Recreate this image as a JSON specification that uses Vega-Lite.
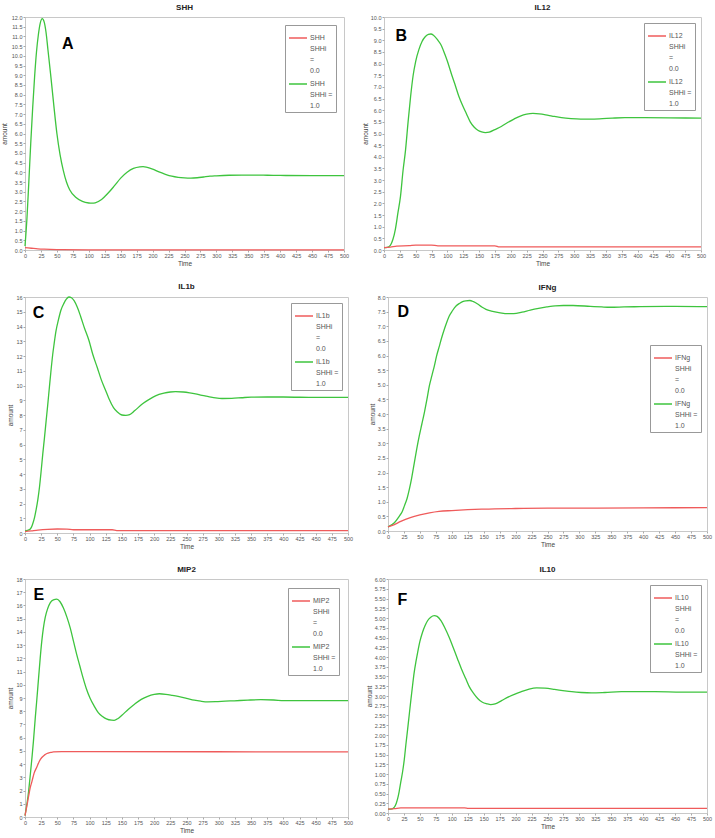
{
  "$schema": "https://vega.github.io/schema/vega-lite/v6.json",
  "background": "white",
  "padding": {"left": 0, "top": 3, "right": 3, "bottom": 2},
  "config": {
    "view": {"stroke": "#c8c8c8", "strokeWidth": 1},
    "axis": {"labelFontSize": 5.5, "labelColor": "#555", "labelFont": "Liberation Sans", "titleFont": "Liberation Sans", "titleFontSize": 6.5, "titleFontWeight": "normal", "titleColor": "#444", "tickSize": 2, "tickColor": "#aaa", "domain": false, "grid": false, "labelPadding": 1, "titlePadding": 2, "labelOverlap": false, "labelFlush": false},
    "title": {"fontSize": 8, "fontWeight": "bold", "font": "Liberation Sans", "offset": 3, "color": "#222"},
    "legend": {"strokeColor": "#999", "fillColor": "white", "padding": 3, "labelFontSize": 7, "labelFont": "Liberation Sans", "labelColor": "#555", "symbolType": "stroke", "symbolStrokeWidth": 1.5, "symbolSize": 324, "labelOffset": 2, "rowPadding": 0, "labelLimit": 200}
  },
  "datasets": {
    "A": [
      {"SHHi":"1.0","time":0,"amount":0.2},{"SHHi":"1.0","time":3,"amount":1.6},{"SHHi":"1.0","time":6,"amount":3.5},{"SHHi":"1.0","time":9,"amount":5.5},{"SHHi":"1.0","time":12,"amount":7.3},{"SHHi":"1.0","time":15,"amount":8.9},{"SHHi":"1.0","time":18,"amount":10.2},{"SHHi":"1.0","time":21,"amount":11.1},{"SHHi":"1.0","time":24,"amount":11.7},{"SHHi":"1.0","time":27,"amount":11.92},{"SHHi":"1.0","time":30,"amount":11.75},{"SHHi":"1.0","time":33,"amount":11.2},{"SHHi":"1.0","time":36,"amount":10.3},{"SHHi":"1.0","time":40,"amount":9.1},{"SHHi":"1.0","time":45,"amount":7.5},{"SHHi":"1.0","time":50,"amount":6.0},{"SHHi":"1.0","time":55,"amount":4.9},{"SHHi":"1.0","time":60,"amount":4.1},{"SHHi":"1.0","time":65,"amount":3.5},{"SHHi":"1.0","time":70,"amount":3.1},{"SHHi":"1.0","time":80,"amount":2.7},{"SHHi":"1.0","time":90,"amount":2.5},{"SHHi":"1.0","time":100,"amount":2.42},{"SHHi":"1.0","time":105,"amount":2.41},{"SHHi":"1.0","time":110,"amount":2.43},{"SHHi":"1.0","time":120,"amount":2.6},{"SHHi":"1.0","time":130,"amount":2.92},{"SHHi":"1.0","time":140,"amount":3.3},{"SHHi":"1.0","time":150,"amount":3.7},{"SHHi":"1.0","time":160,"amount":4.0},{"SHHi":"1.0","time":170,"amount":4.2},{"SHHi":"1.0","time":180,"amount":4.28},{"SHHi":"1.0","time":185,"amount":4.29},{"SHHi":"1.0","time":190,"amount":4.27},{"SHHi":"1.0","time":200,"amount":4.17},{"SHHi":"1.0","time":210,"amount":4.02},{"SHHi":"1.0","time":220,"amount":3.9},{"SHHi":"1.0","time":230,"amount":3.8},{"SHHi":"1.0","time":240,"amount":3.74},{"SHHi":"1.0","time":250,"amount":3.71},{"SHHi":"1.0","time":260,"amount":3.7},{"SHHi":"1.0","time":270,"amount":3.72},{"SHHi":"1.0","time":280,"amount":3.76},{"SHHi":"1.0","time":290,"amount":3.8},{"SHHi":"1.0","time":300,"amount":3.82},{"SHHi":"1.0","time":320,"amount":3.85},{"SHHi":"1.0","time":340,"amount":3.86},{"SHHi":"1.0","time":360,"amount":3.86},{"SHHi":"1.0","time":380,"amount":3.85},{"SHHi":"1.0","time":400,"amount":3.84},{"SHHi":"1.0","time":450,"amount":3.83},{"SHHi":"1.0","time":500,"amount":3.83},
      {"SHHi":"0.0","time":0,"amount":0.12},{"SHHi":"0.0","time":10,"amount":0.09},{"SHHi":"0.0","time":20,"amount":0.06},{"SHHi":"0.0","time":30,"amount":0.04},{"SHHi":"0.0","time":50,"amount":0.02},{"SHHi":"0.0","time":100,"amount":0.01},{"SHHi":"0.0","time":200,"amount":0.01},{"SHHi":"0.0","time":500,"amount":0.01}
    ],
    "B": [
      {"SHHi":"1.0","time":0,"amount":0.1},{"SHHi":"1.0","time":5,"amount":0.11},{"SHHi":"1.0","time":10,"amount":0.2},{"SHHi":"1.0","time":14,"amount":0.45},{"SHHi":"1.0","time":18,"amount":0.9},{"SHHi":"1.0","time":22,"amount":1.6},{"SHHi":"1.0","time":26,"amount":2.3},{"SHHi":"1.0","time":30,"amount":3.4},{"SHHi":"1.0","time":34,"amount":4.3},{"SHHi":"1.0","time":38,"amount":5.5},{"SHHi":"1.0","time":42,"amount":6.6},{"SHHi":"1.0","time":46,"amount":7.5},{"SHHi":"1.0","time":50,"amount":8.1},{"SHHi":"1.0","time":55,"amount":8.6},{"SHHi":"1.0","time":60,"amount":8.95},{"SHHi":"1.0","time":65,"amount":9.15},{"SHHi":"1.0","time":70,"amount":9.25},{"SHHi":"1.0","time":74,"amount":9.27},{"SHHi":"1.0","time":78,"amount":9.22},{"SHHi":"1.0","time":85,"amount":9.0},{"SHHi":"1.0","time":90,"amount":8.8},{"SHHi":"1.0","time":96,"amount":8.4},{"SHHi":"1.0","time":100,"amount":8.1},{"SHHi":"1.0","time":107,"amount":7.5},{"SHHi":"1.0","time":112,"amount":7.1},{"SHHi":"1.0","time":118,"amount":6.6},{"SHHi":"1.0","time":124,"amount":6.2},{"SHHi":"1.0","time":130,"amount":5.85},{"SHHi":"1.0","time":136,"amount":5.5},{"SHHi":"1.0","time":142,"amount":5.28},{"SHHi":"1.0","time":148,"amount":5.14},{"SHHi":"1.0","time":154,"amount":5.07},{"SHHi":"1.0","time":160,"amount":5.04},{"SHHi":"1.0","time":166,"amount":5.06},{"SHHi":"1.0","time":175,"amount":5.17},{"SHHi":"1.0","time":185,"amount":5.3},{"SHHi":"1.0","time":195,"amount":5.47},{"SHHi":"1.0","time":205,"amount":5.62},{"SHHi":"1.0","time":215,"amount":5.75},{"SHHi":"1.0","time":225,"amount":5.83},{"SHHi":"1.0","time":235,"amount":5.86},{"SHHi":"1.0","time":245,"amount":5.84},{"SHHi":"1.0","time":255,"amount":5.8},{"SHHi":"1.0","time":265,"amount":5.75},{"SHHi":"1.0","time":280,"amount":5.68},{"SHHi":"1.0","time":295,"amount":5.64},{"SHHi":"1.0","time":310,"amount":5.62},{"SHHi":"1.0","time":325,"amount":5.62},{"SHHi":"1.0","time":340,"amount":5.63},{"SHHi":"1.0","time":360,"amount":5.66},{"SHHi":"1.0","time":380,"amount":5.68},{"SHHi":"1.0","time":400,"amount":5.68},{"SHHi":"1.0","time":450,"amount":5.67},{"SHHi":"1.0","time":500,"amount":5.66},
      {"SHHi":"0.0","time":0,"amount":0.1},{"SHHi":"0.0","time":10,"amount":0.12},{"SHHi":"0.0","time":20,"amount":0.17},{"SHHi":"0.0","time":40,"amount":0.19},{"SHHi":"0.0","time":50,"amount":0.21},{"SHHi":"0.0","time":75,"amount":0.21},{"SHHi":"0.0","time":85,"amount":0.18},{"SHHi":"0.0","time":175,"amount":0.18},{"SHHi":"0.0","time":182,"amount":0.13},{"SHHi":"0.0","time":500,"amount":0.13}
    ],
    "C": [
      {"SHHi":"1.0","time":0,"amount":0.14},{"SHHi":"1.0","time":7,"amount":0.23},{"SHHi":"1.0","time":10,"amount":0.4},{"SHHi":"1.0","time":12,"amount":0.63},{"SHHi":"1.0","time":15,"amount":1.1},{"SHHi":"1.0","time":17,"amount":1.53},{"SHHi":"1.0","time":20,"amount":2.3},{"SHHi":"1.0","time":22.4,"amount":3.1},{"SHHi":"1.0","time":25,"amount":4.2},{"SHHi":"1.0","time":27.6,"amount":5.4},{"SHHi":"1.0","time":30,"amount":6.4},{"SHHi":"1.0","time":32.7,"amount":7.6},{"SHHi":"1.0","time":35,"amount":8.6},{"SHHi":"1.0","time":37.8,"amount":9.9},{"SHHi":"1.0","time":40,"amount":10.9},{"SHHi":"1.0","time":42.9,"amount":12.1},{"SHHi":"1.0","time":45,"amount":12.8},{"SHHi":"1.0","time":48,"amount":13.7},{"SHHi":"1.0","time":52,"amount":14.5},{"SHHi":"1.0","time":55.6,"amount":15.1},{"SHHi":"1.0","time":60,"amount":15.55},{"SHHi":"1.0","time":64,"amount":15.85},{"SHHi":"1.0","time":68,"amount":16.0},{"SHHi":"1.0","time":72,"amount":15.95},{"SHHi":"1.0","time":76,"amount":15.75},{"SHHi":"1.0","time":81,"amount":15.3},{"SHHi":"1.0","time":86,"amount":14.7},{"SHHi":"1.0","time":92,"amount":13.9},{"SHHi":"1.0","time":99,"amount":13.05},{"SHHi":"1.0","time":105,"amount":12.1},{"SHHi":"1.0","time":112,"amount":11.2},{"SHHi":"1.0","time":118,"amount":10.4},{"SHHi":"1.0","time":124.5,"amount":9.7},{"SHHi":"1.0","time":130,"amount":9.1},{"SHHi":"1.0","time":137,"amount":8.5},{"SHHi":"1.0","time":143,"amount":8.2},{"SHHi":"1.0","time":150,"amount":8.0},{"SHHi":"1.0","time":156,"amount":7.97},{"SHHi":"1.0","time":162,"amount":8.02},{"SHHi":"1.0","time":170,"amount":8.3},{"SHHi":"1.0","time":182,"amount":8.76},{"SHHi":"1.0","time":192,"amount":9.05},{"SHHi":"1.0","time":202,"amount":9.3},{"SHHi":"1.0","time":215,"amount":9.48},{"SHHi":"1.0","time":225,"amount":9.56},{"SHHi":"1.0","time":233,"amount":9.59},{"SHHi":"1.0","time":245,"amount":9.56},{"SHHi":"1.0","time":255,"amount":9.5},{"SHHi":"1.0","time":264,"amount":9.43},{"SHHi":"1.0","time":274,"amount":9.33},{"SHHi":"1.0","time":284,"amount":9.25},{"SHHi":"1.0","time":295,"amount":9.16},{"SHHi":"1.0","time":305,"amount":9.12},{"SHHi":"1.0","time":320,"amount":9.13},{"SHHi":"1.0","time":335,"amount":9.17},{"SHHi":"1.0","time":350,"amount":9.21},{"SHHi":"1.0","time":375,"amount":9.22},{"SHHi":"1.0","time":400,"amount":9.22},{"SHHi":"1.0","time":450,"amount":9.19},{"SHHi":"1.0","time":500,"amount":9.19},
      {"SHHi":"0.0","time":0,"amount":0.1},{"SHHi":"0.0","time":10,"amount":0.15},{"SHHi":"0.0","time":20,"amount":0.2},{"SHHi":"0.0","time":35,"amount":0.25},{"SHHi":"0.0","time":50,"amount":0.27},{"SHHi":"0.0","time":65,"amount":0.26},{"SHHi":"0.0","time":75,"amount":0.22},{"SHHi":"0.0","time":135,"amount":0.22},{"SHHi":"0.0","time":142,"amount":0.16},{"SHHi":"0.0","time":500,"amount":0.16}
    ],
    "D": [
      {"SHHi":"1.0","time":0,"amount":0.14},{"SHHi":"1.0","time":10,"amount":0.28},{"SHHi":"1.0","time":17.8,"amount":0.51},{"SHHi":"1.0","time":22,"amount":0.65},{"SHHi":"1.0","time":25.6,"amount":0.85},{"SHHi":"1.0","time":30,"amount":1.12},{"SHHi":"1.0","time":33.4,"amount":1.42},{"SHHi":"1.0","time":37,"amount":1.8},{"SHHi":"1.0","time":41.3,"amount":2.34},{"SHHi":"1.0","time":45,"amount":2.8},{"SHHi":"1.0","time":49,"amount":3.25},{"SHHi":"1.0","time":53,"amount":3.65},{"SHHi":"1.0","time":57,"amount":4.05},{"SHHi":"1.0","time":61,"amount":4.5},{"SHHi":"1.0","time":64.8,"amount":4.96},{"SHHi":"1.0","time":69,"amount":5.33},{"SHHi":"1.0","time":72.6,"amount":5.64},{"SHHi":"1.0","time":76,"amount":5.97},{"SHHi":"1.0","time":80.5,"amount":6.32},{"SHHi":"1.0","time":84,"amount":6.6},{"SHHi":"1.0","time":88.3,"amount":6.9},{"SHHi":"1.0","time":92,"amount":7.13},{"SHHi":"1.0","time":96,"amount":7.35},{"SHHi":"1.0","time":101,"amount":7.53},{"SHHi":"1.0","time":106.6,"amount":7.69},{"SHHi":"1.0","time":112,"amount":7.78},{"SHHi":"1.0","time":117,"amount":7.84},{"SHHi":"1.0","time":122,"amount":7.87},{"SHHi":"1.0","time":128,"amount":7.88},{"SHHi":"1.0","time":134,"amount":7.84},{"SHHi":"1.0","time":140.5,"amount":7.76},{"SHHi":"1.0","time":147,"amount":7.66},{"SHHi":"1.0","time":153.6,"amount":7.58},{"SHHi":"1.0","time":162,"amount":7.52},{"SHHi":"1.0","time":176,"amount":7.46},{"SHHi":"1.0","time":187,"amount":7.43},{"SHHi":"1.0","time":197,"amount":7.43},{"SHHi":"1.0","time":210,"amount":7.48},{"SHHi":"1.0","time":223,"amount":7.55},{"SHHi":"1.0","time":236,"amount":7.61},{"SHHi":"1.0","time":249,"amount":7.66},{"SHHi":"1.0","time":262,"amount":7.7},{"SHHi":"1.0","time":275,"amount":7.71},{"SHHi":"1.0","time":290,"amount":7.71},{"SHHi":"1.0","time":317,"amount":7.68},{"SHHi":"1.0","time":335,"amount":7.66},{"SHHi":"1.0","time":348,"amount":7.65},{"SHHi":"1.0","time":370,"amount":7.66},{"SHHi":"1.0","time":395,"amount":7.67},{"SHHi":"1.0","time":450,"amount":7.68},{"SHHi":"1.0","time":500,"amount":7.67},
      {"SHHi":"0.0","time":0,"amount":0.14},{"SHHi":"0.0","time":10,"amount":0.22},{"SHHi":"0.0","time":20,"amount":0.33},{"SHHi":"0.0","time":35,"amount":0.46},{"SHHi":"0.0","time":50,"amount":0.55},{"SHHi":"0.0","time":65,"amount":0.62},{"SHHi":"0.0","time":80,"amount":0.67},{"SHHi":"0.0","time":100,"amount":0.7},{"SHHi":"0.0","time":125,"amount":0.73},{"SHHi":"0.0","time":150,"amount":0.75},{"SHHi":"0.0","time":200,"amount":0.77},{"SHHi":"0.0","time":250,"amount":0.78},{"SHHi":"0.0","time":300,"amount":0.78},{"SHHi":"0.0","time":400,"amount":0.79},{"SHHi":"0.0","time":500,"amount":0.8}
    ],
    "E": [
      {"SHHi":"1.0","time":0,"amount":0.1},{"SHHi":"1.0","time":3,"amount":1.0},{"SHHi":"1.0","time":5.6,"amount":1.95},{"SHHi":"1.0","time":8,"amount":3.1},{"SHHi":"1.0","time":10.8,"amount":4.5},{"SHHi":"1.0","time":13,"amount":5.7},{"SHHi":"1.0","time":15.9,"amount":7.5},{"SHHi":"1.0","time":18,"amount":8.7},{"SHHi":"1.0","time":21,"amount":10.5},{"SHHi":"1.0","time":23.5,"amount":12.0},{"SHHi":"1.0","time":26,"amount":13.3},{"SHHi":"1.0","time":28.5,"amount":14.3},{"SHHi":"1.0","time":31.3,"amount":15.1},{"SHHi":"1.0","time":35,"amount":15.75},{"SHHi":"1.0","time":39,"amount":16.2},{"SHHi":"1.0","time":44,"amount":16.42},{"SHHi":"1.0","time":49.3,"amount":16.48},{"SHHi":"1.0","time":54,"amount":16.3},{"SHHi":"1.0","time":59.5,"amount":15.8},{"SHHi":"1.0","time":65,"amount":15.1},{"SHHi":"1.0","time":70,"amount":14.3},{"SHHi":"1.0","time":75,"amount":13.3},{"SHHi":"1.0","time":80,"amount":12.3},{"SHHi":"1.0","time":85,"amount":11.4},{"SHHi":"1.0","time":90,"amount":10.5},{"SHHi":"1.0","time":95,"amount":9.7},{"SHHi":"1.0","time":100.6,"amount":9.0},{"SHHi":"1.0","time":107,"amount":8.4},{"SHHi":"1.0","time":113.4,"amount":7.9},{"SHHi":"1.0","time":120,"amount":7.6},{"SHHi":"1.0","time":126,"amount":7.42},{"SHHi":"1.0","time":134,"amount":7.32},{"SHHi":"1.0","time":138,"amount":7.31},{"SHHi":"1.0","time":144,"amount":7.45},{"SHHi":"1.0","time":150,"amount":7.7},{"SHHi":"1.0","time":159.7,"amount":8.13},{"SHHi":"1.0","time":170,"amount":8.55},{"SHHi":"1.0","time":180,"amount":8.9},{"SHHi":"1.0","time":190,"amount":9.13},{"SHHi":"1.0","time":200,"amount":9.27},{"SHHi":"1.0","time":208,"amount":9.32},{"SHHi":"1.0","time":218,"amount":9.28},{"SHHi":"1.0","time":228,"amount":9.2},{"SHHi":"1.0","time":237,"amount":9.12},{"SHHi":"1.0","time":250,"amount":8.98},{"SHHi":"1.0","time":262,"amount":8.84},{"SHHi":"1.0","time":272,"amount":8.76},{"SHHi":"1.0","time":283,"amount":8.71},{"SHHi":"1.0","time":295,"amount":8.72},{"SHHi":"1.0","time":310,"amount":8.76},{"SHHi":"1.0","time":324,"amount":8.79},{"SHHi":"1.0","time":345,"amount":8.84},{"SHHi":"1.0","time":365,"amount":8.87},{"SHHi":"1.0","time":385,"amount":8.85},{"SHHi":"1.0","time":401,"amount":8.8},{"SHHi":"1.0","time":450,"amount":8.8},{"SHHi":"1.0","time":500,"amount":8.8},
      {"SHHi":"0.0","time":0,"amount":0.1},{"SHHi":"0.0","time":2,"amount":0.6},{"SHHi":"0.0","time":5.6,"amount":1.57},{"SHHi":"0.0","time":8,"amount":2.2},{"SHHi":"0.0","time":10.8,"amount":2.7},{"SHHi":"0.0","time":14,"amount":3.3},{"SHHi":"0.0","time":18.5,"amount":3.8},{"SHHi":"0.0","time":22,"amount":4.2},{"SHHi":"0.0","time":26,"amount":4.5},{"SHHi":"0.0","time":30,"amount":4.68},{"SHHi":"0.0","time":33.9,"amount":4.8},{"SHHi":"0.0","time":40,"amount":4.88},{"SHHi":"0.0","time":44,"amount":4.92},{"SHHi":"0.0","time":57,"amount":4.95},{"SHHi":"0.0","time":100,"amount":4.94},{"SHHi":"0.0","time":500,"amount":4.93}
    ],
    "F": [
      {"SHHi":"1.0","time":0,"amount":0.1},{"SHHi":"1.0","time":5,"amount":0.1},{"SHHi":"1.0","time":10,"amount":0.15},{"SHHi":"1.0","time":13,"amount":0.25},{"SHHi":"1.0","time":15,"amount":0.36},{"SHHi":"1.0","time":17.5,"amount":0.55},{"SHHi":"1.0","time":20,"amount":0.79},{"SHHi":"1.0","time":23,"amount":1.07},{"SHHi":"1.0","time":25.6,"amount":1.38},{"SHHi":"1.0","time":28,"amount":1.75},{"SHHi":"1.0","time":30.8,"amount":2.15},{"SHHi":"1.0","time":33.5,"amount":2.55},{"SHHi":"1.0","time":36,"amount":2.92},{"SHHi":"1.0","time":38.5,"amount":3.27},{"SHHi":"1.0","time":41,"amount":3.6},{"SHHi":"1.0","time":44,"amount":3.9},{"SHHi":"1.0","time":46.5,"amount":4.12},{"SHHi":"1.0","time":50,"amount":4.4},{"SHHi":"1.0","time":54,"amount":4.63},{"SHHi":"1.0","time":58,"amount":4.8},{"SHHi":"1.0","time":62,"amount":4.93},{"SHHi":"1.0","time":67,"amount":5.02},{"SHHi":"1.0","time":72.5,"amount":5.06},{"SHHi":"1.0","time":77,"amount":5.04},{"SHHi":"1.0","time":83,"amount":4.93},{"SHHi":"1.0","time":89,"amount":4.75},{"SHHi":"1.0","time":96,"amount":4.5},{"SHHi":"1.0","time":102,"amount":4.25},{"SHHi":"1.0","time":109,"amount":3.95},{"SHHi":"1.0","time":115,"amount":3.7},{"SHHi":"1.0","time":122,"amount":3.44},{"SHHi":"1.0","time":128,"amount":3.22},{"SHHi":"1.0","time":135,"amount":3.05},{"SHHi":"1.0","time":141,"amount":2.93},{"SHHi":"1.0","time":148,"amount":2.84},{"SHHi":"1.0","time":155,"amount":2.8},{"SHHi":"1.0","time":161,"amount":2.78},{"SHHi":"1.0","time":168,"amount":2.8},{"SHHi":"1.0","time":178,"amount":2.88},{"SHHi":"1.0","time":188,"amount":2.97},{"SHHi":"1.0","time":199,"amount":3.05},{"SHHi":"1.0","time":209,"amount":3.11},{"SHHi":"1.0","time":220,"amount":3.17},{"SHHi":"1.0","time":233,"amount":3.21},{"SHHi":"1.0","time":246,"amount":3.2},{"SHHi":"1.0","time":261,"amount":3.17},{"SHHi":"1.0","time":274,"amount":3.14},{"SHHi":"1.0","time":288,"amount":3.11},{"SHHi":"1.0","time":303,"amount":3.09},{"SHHi":"1.0","time":319,"amount":3.08},{"SHHi":"1.0","time":340,"amount":3.09},{"SHHi":"1.0","time":366,"amount":3.11},{"SHHi":"1.0","time":390,"amount":3.11},{"SHHi":"1.0","time":418,"amount":3.11},{"SHHi":"1.0","time":460,"amount":3.1},{"SHHi":"1.0","time":500,"amount":3.1},
      {"SHHi":"0.0","time":0,"amount":0.1},{"SHHi":"0.0","time":10,"amount":0.11},{"SHHi":"0.0","time":20,"amount":0.13},{"SHHi":"0.0","time":120,"amount":0.13},{"SHHi":"0.0","time":126,"amount":0.12},{"SHHi":"0.0","time":500,"amount":0.12}
    ]
  },
  "resolve": {"scale": {"color": "independent", "x": "independent", "y": "independent"}, "legend": {"color": "independent"}},
  "spacing": 14,
  "vconcat": [
    {
      "hconcat": [
        {
          "width": 319, "height": 233, "title": "SHH",
          "layer": [
            {"data": {"name": "A"}, "mark": {"type": "line", "interpolate": "monotone", "strokeWidth": 1.3},
             "encoding": {
               "x": {"field": "time", "type": "quantitative", "scale": {"domain": [0, 500], "nice": false}, "axis": {"title": "Time", "values": [0,25,50,75,100,125,150,175,200,225,250,275,300,325,350,375,400,425,450,475,500]}},
               "y": {"field": "amount", "type": "quantitative", "scale": {"domain": [0, 12], "nice": false}, "axis": {"title": "amount", "titlePadding": 4, "format": ".1f", "values": [0,0.5,1,1.5,2,2.5,3,3.5,4,4.5,5,5.5,6,6.5,7,7.5,8,8.5,9,9.5,10,10.5,11,11.5,12]}},
               "color": {"field": "SHHi", "type": "nominal", "scale": {"domain": ["0.0", "1.0"], "range": ["#ef5b5b", "#3ec43e"]},
                 "legend": {"title": null, "orient": "top-right", "offset": 8, "labelExpr": "datum.label == '0.0' ? ['SHH', 'SHHi', '=', '0.0'] : ['SHH', 'SHHi =', '1.0']", "encode": {"labels": {"update": {"lineHeight": {"value": 11}}}}}}
             }},
            {"data": {"values": [{"letter": "A"}]}, "mark": {"type": "text", "fontSize": 16, "fontWeight": "bold", "font": "Liberation Sans", "align": "left", "baseline": "middle", "color": "black"},
             "encoding": {"x": {"datum": 58, "type": "quantitative", "axis": {"title": "Time", "values": [0,25,50,75,100,125,150,175,200,225,250,275,300,325,350,375,400,425,450,475,500]}}, "y": {"datum": 10.6, "type": "quantitative", "axis": {"title": "amount", "titlePadding": 4, "format": ".1f", "values": [0,0.5,1,1.5,2,2.5,3,3.5,4,4.5,5,5.5,6,6.5,7,7.5,8,8.5,9,9.5,10,10.5,11,11.5,12]}}, "text": {"field": "letter"}}}
          ]
        },
        {
          "width": 317, "height": 233, "title": "IL12",
          "layer": [
            {"data": {"name": "B"}, "mark": {"type": "line", "interpolate": "monotone", "strokeWidth": 1.3},
             "encoding": {
               "x": {"field": "time", "type": "quantitative", "scale": {"domain": [0, 500], "nice": false}, "axis": {"title": "Time", "values": [0,25,50,75,100,125,150,175,200,225,250,275,300,325,350,375,400,425,450,475,500]}},
               "y": {"field": "amount", "type": "quantitative", "scale": {"domain": [0, 10], "nice": false}, "axis": {"title": "amount", "format": ".1f", "values": [0,0.5,1,1.5,2,2.5,3,3.5,4,4.5,5,5.5,6,6.5,7,7.5,8,8.5,9,9.5,10]}},
               "color": {"field": "SHHi", "type": "nominal", "scale": {"domain": ["0.0", "1.0"], "range": ["#ef5b5b", "#3ec43e"]},
                 "legend": {"title": null, "orient": "top-right", "offset": 6, "labelExpr": "datum.label == '0.0' ? ['IL12', 'SHHi', '=', '0.0'] : ['IL12', 'SHHi =', '1.0']", "encode": {"labels": {"update": {"lineHeight": {"value": 11}}}}}}
             }},
            {"data": {"values": [{"letter": "B"}]}, "mark": {"type": "text", "fontSize": 16, "fontWeight": "bold", "font": "Liberation Sans", "align": "left", "baseline": "middle", "color": "black"},
             "encoding": {"x": {"datum": 18, "type": "quantitative", "axis": {"title": "Time", "values": [0,25,50,75,100,125,150,175,200,225,250,275,300,325,350,375,400,425,450,475,500]}}, "y": {"datum": 9.2, "type": "quantitative", "axis": {"title": "amount", "format": ".1f", "values": [0,0.5,1,1.5,2,2.5,3,3.5,4,4.5,5,5.5,6,6.5,7,7.5,8,8.5,9,9.5,10]}}, "text": {"field": "letter"}}}
          ]
        }
      ],
      "spacing": 11,
      "resolve": {"scale": {"color": "independent", "x": "independent", "y": "independent"}, "legend": {"color": "independent"}}
    },
    {
      "hconcat": [
        {
          "width": 323, "height": 236, "title": "IL1b",
          "layer": [
            {"data": {"name": "C"}, "mark": {"type": "line", "interpolate": "monotone", "strokeWidth": 1.3},
             "encoding": {
               "x": {"field": "time", "type": "quantitative", "scale": {"domain": [0, 500], "nice": false}, "axis": {"title": "Time", "values": [0,25,50,75,100,125,150,175,200,225,250,275,300,325,350,375,400,425,450,475,500]}},
               "y": {"field": "amount", "type": "quantitative", "scale": {"domain": [0, 16], "nice": false}, "axis": {"title": "amount", "format": "d", "values": [0,1,2,3,4,5,6,7,8,9,10,11,12,13,14,15,16]}},
               "color": {"field": "SHHi", "type": "nominal", "scale": {"domain": ["0.0", "1.0"], "range": ["#ef5b5b", "#3ec43e"]},
                 "legend": {"title": null, "orient": "top-right", "offset": 6, "labelExpr": "datum.label == '0.0' ? ['IL1b', 'SHHi', '=', '0.0'] : ['IL1b', 'SHHi =', '1.0']", "encode": {"labels": {"update": {"lineHeight": {"value": 11}}}}}}
             }},
            {"data": {"values": [{"letter": "C"}]}, "mark": {"type": "text", "fontSize": 16, "fontWeight": "bold", "font": "Liberation Sans", "align": "left", "baseline": "middle", "color": "black"},
             "encoding": {"x": {"datum": 12, "type": "quantitative", "axis": {"title": "Time", "values": [0,25,50,75,100,125,150,175,200,225,250,275,300,325,350,375,400,425,450,475,500]}}, "y": {"datum": 14.9, "type": "quantitative", "axis": {"title": "amount", "format": "d", "values": [0,1,2,3,4,5,6,7,8,9,10,11,12,13,14,15,16]}}, "text": {"field": "letter"}}}
          ]
        },
        {
          "width": 319, "height": 234, "title": "IFNg",
          "layer": [
            {"data": {"name": "D"}, "mark": {"type": "line", "interpolate": "monotone", "strokeWidth": 1.3},
             "encoding": {
               "x": {"field": "time", "type": "quantitative", "scale": {"domain": [0, 500], "nice": false}, "axis": {"title": "Time", "values": [0,25,50,75,100,125,150,175,200,225,250,275,300,325,350,375,400,425,450,475,500]}},
               "y": {"field": "amount", "type": "quantitative", "scale": {"domain": [0, 8], "nice": false}, "axis": {"title": "amount", "format": ".1f", "values": [0,0.5,1,1.5,2,2.5,3,3.5,4,4.5,5,5.5,6,6.5,7,7.5,8]}},
               "color": {"field": "SHHi", "type": "nominal", "scale": {"domain": ["0.0", "1.0"], "range": ["#ef5b5b", "#3ec43e"]},
                 "legend": {"title": null, "orient": "none", "legendX": 262, "legendY": 48, "labelExpr": "datum.label == '0.0' ? ['IFNg', 'SHHi', '=', '0.0'] : ['IFNg', 'SHHi =', '1.0']", "encode": {"labels": {"update": {"lineHeight": {"value": 11}}}}}}
             }},
            {"data": {"values": [{"letter": "D"}]}, "mark": {"type": "text", "fontSize": 16, "fontWeight": "bold", "font": "Liberation Sans", "align": "left", "baseline": "middle", "color": "black"},
             "encoding": {"x": {"datum": 15, "type": "quantitative", "axis": {"title": "Time", "values": [0,25,50,75,100,125,150,175,200,225,250,275,300,325,350,375,400,425,450,475,500]}}, "y": {"datum": 7.49, "type": "quantitative", "axis": {"title": "amount", "format": ".1f", "values": [0,0.5,1,1.5,2,2.5,3,3.5,4,4.5,5,5.5,6,6.5,7,7.5,8]}}, "text": {"field": "letter"}}}
          ]
        }
      ],
      "spacing": 14,
      "resolve": {"scale": {"color": "independent", "x": "independent", "y": "independent"}, "legend": {"color": "independent"}}
    },
    {
      "hconcat": [
        {
          "width": 323, "height": 238, "title": "MIP2",
          "layer": [
            {"data": {"name": "E"}, "mark": {"type": "line", "interpolate": "monotone", "strokeWidth": 1.3},
             "encoding": {
               "x": {"field": "time", "type": "quantitative", "scale": {"domain": [0, 500], "nice": false}, "axis": {"title": "Time", "values": [0,25,50,75,100,125,150,175,200,225,250,275,300,325,350,375,400,425,450,475,500]}},
               "y": {"field": "amount", "type": "quantitative", "scale": {"domain": [0, 18], "nice": false}, "axis": {"title": "amount", "format": "d", "values": [0,1,2,3,4,5,6,7,8,9,10,11,12,13,14,15,16,17,18]}},
               "color": {"field": "SHHi", "type": "nominal", "scale": {"domain": ["0.0", "1.0"], "range": ["#ef5b5b", "#3ec43e"]},
                 "legend": {"title": null, "orient": "top-right", "offset": 9, "labelExpr": "datum.label == '0.0' ? ['MIP2', 'SHHi', '=', '0.0'] : ['MIP2', 'SHHi =', '1.0']", "encode": {"labels": {"update": {"lineHeight": {"value": 11}}}}}}
             }},
            {"data": {"values": [{"letter": "E"}]}, "mark": {"type": "text", "fontSize": 16, "fontWeight": "bold", "font": "Liberation Sans", "align": "left", "baseline": "middle", "color": "black"},
             "encoding": {"x": {"datum": 13, "type": "quantitative", "axis": {"title": "Time", "values": [0,25,50,75,100,125,150,175,200,225,250,275,300,325,350,375,400,425,450,475,500]}}, "y": {"datum": 16.8, "type": "quantitative", "axis": {"title": "amount", "format": "d", "values": [0,1,2,3,4,5,6,7,8,9,10,11,12,13,14,15,16,17,18]}}, "text": {"field": "letter"}}}
          ]
        },
        {
          "width": 319, "height": 234, "title": "IL10",
          "layer": [
            {"data": {"name": "F"}, "mark": {"type": "line", "interpolate": "monotone", "strokeWidth": 1.3},
             "encoding": {
               "x": {"field": "time", "type": "quantitative", "scale": {"domain": [0, 500], "nice": false}, "axis": {"title": "Time", "values": [0,25,50,75,100,125,150,175,200,225,250,275,300,325,350,375,400,425,450,475,500]}},
               "y": {"field": "amount", "type": "quantitative", "scale": {"domain": [0, 6], "nice": false}, "axis": {"title": "amount", "format": ".2f", "values": [0,0.25,0.5,0.75,1,1.25,1.5,1.75,2,2.25,2.5,2.75,3,3.25,3.5,3.75,4,4.25,4.5,4.75,5,5.25,5.5,5.75,6]}},
               "color": {"field": "SHHi", "type": "nominal", "scale": {"domain": ["0.0", "1.0"], "range": ["#ef5b5b", "#3ec43e"]},
                 "legend": {"title": null, "orient": "top-right", "offset": 6, "labelExpr": "datum.label == '0.0' ? ['IL10', 'SHHi', '=', '0.0'] : ['IL10', 'SHHi =', '1.0']", "encode": {"labels": {"update": {"lineHeight": {"value": 11}}}}}}
             }},
            {"data": {"values": [{"letter": "F"}]}, "mark": {"type": "text", "fontSize": 16, "fontWeight": "bold", "font": "Liberation Sans", "align": "left", "baseline": "middle", "color": "black"},
             "encoding": {"x": {"datum": 15, "type": "quantitative", "axis": {"title": "Time", "values": [0,25,50,75,100,125,150,175,200,225,250,275,300,325,350,375,400,425,450,475,500]}}, "y": {"datum": 5.47, "type": "quantitative", "axis": {"title": "amount", "format": ".2f", "values": [0,0.25,0.5,0.75,1,1.25,1.5,1.75,2,2.25,2.5,2.75,3,3.25,3.5,3.75,4,4.25,4.5,4.75,5,5.25,5.5,5.75,6]}}, "text": {"field": "letter"}}}
          ]
        }
      ],
      "spacing": 11,
      "resolve": {"scale": {"color": "independent", "x": "independent", "y": "independent"}, "legend": {"color": "independent"}}
    }
  ]
}
